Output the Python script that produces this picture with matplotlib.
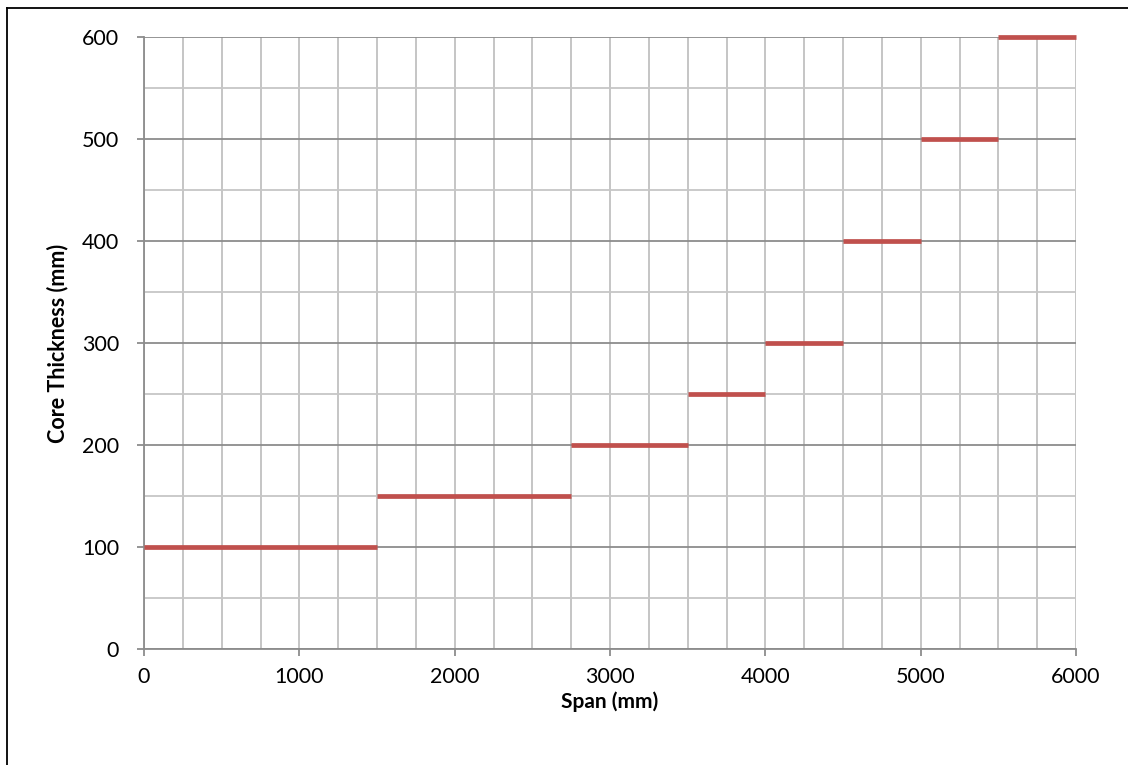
import matplotlib
matplotlib.use("Agg")
import matplotlib.pyplot as plt
from matplotlib.lines import Line2D
from matplotlib.ticker import MultipleLocator

# Span ranges (mm) and the core thickness required for each range (mm)
span_start = [0, 1500, 2750, 3500, 4000, 4500, 5000, 5500]
span_end = [1500, 2750, 3500, 4000, 4500, 5000, 5500, 6000]
thickness = [100, 150, 200, 250, 300, 400, 500, 600]

x_ticks = [0, 1000, 2000, 3000, 4000, 5000, 6000]
y_ticks = [0, 100, 200, 300, 400, 500, 600]

plt.rcParams['font.family'] = ['Lato', 'DejaVu Sans']

W, H = 1128, 765
fig = plt.figure(figsize=(W / 100, H / 100), dpi=100)
fig.patch.set_facecolor('white')

left, right, top, bottom = 144, 1076, 37, 649
ax = fig.add_axes([left / W, 1 - bottom / H, (right - left) / W, (bottom - top) / H])

line_color = '#C0504D'
for x0, x1, t in zip(span_start, span_end, thickness):
    ax.plot([x0, x1], [t, t], color=line_color, lw=3.4, solid_capstyle='butt', zorder=3, clip_on=False)

ax.set_xlim(0, 6000)
ax.set_ylim(0, 600)
ax.set_xticks(x_ticks)
ax.set_yticks(y_ticks)
ax.xaxis.set_minor_locator(MultipleLocator(250))
ax.yaxis.set_minor_locator(MultipleLocator(50))

ax.grid(True, which='major', axis='y', color='#8c8c8c', lw=1.3, zorder=1)
ax.grid(True, which='minor', axis='y', color='#c6c6c6', lw=1.3, zorder=1)
ax.grid(True, which='both', axis='x', color='#c0c0c0', lw=1.3, zorder=1)
ax.set_axisbelow(True)

for s in ['top', 'right']:
    ax.spines[s].set_visible(False)
for s in ['left', 'bottom']:
    ax.spines[s].set_color('#8c8c8c')
    ax.spines[s].set_linewidth(1.3)

ax.tick_params(which='major', direction='out', length=5, width=1.3, color='#8c8c8c',
               labelsize=15.5, labelcolor='black')
ax.tick_params(which='minor', length=0)
ax.tick_params(axis='y', pad=13)
ax.tick_params(axis='x', pad=8)

ax.set_xlabel('Span (mm)', fontsize=15, fontweight='bold', labelpad=3)
ax.set_ylabel('Core Thickness (mm)', fontsize=15.5, fontweight='bold', labelpad=10)

# Outer chart frame
fig.add_artist(Line2D([7 / W, 1.2], [1 - 8 / H, 1 - 8 / H], transform=fig.transFigure,
                      color='black', lw=1.3))
fig.add_artist(Line2D([7 / W, 7 / W], [1 - 8 / H, -0.2], transform=fig.transFigure,
                      color='black', lw=1.3))

fig.savefig('out.png', dpi=100)
